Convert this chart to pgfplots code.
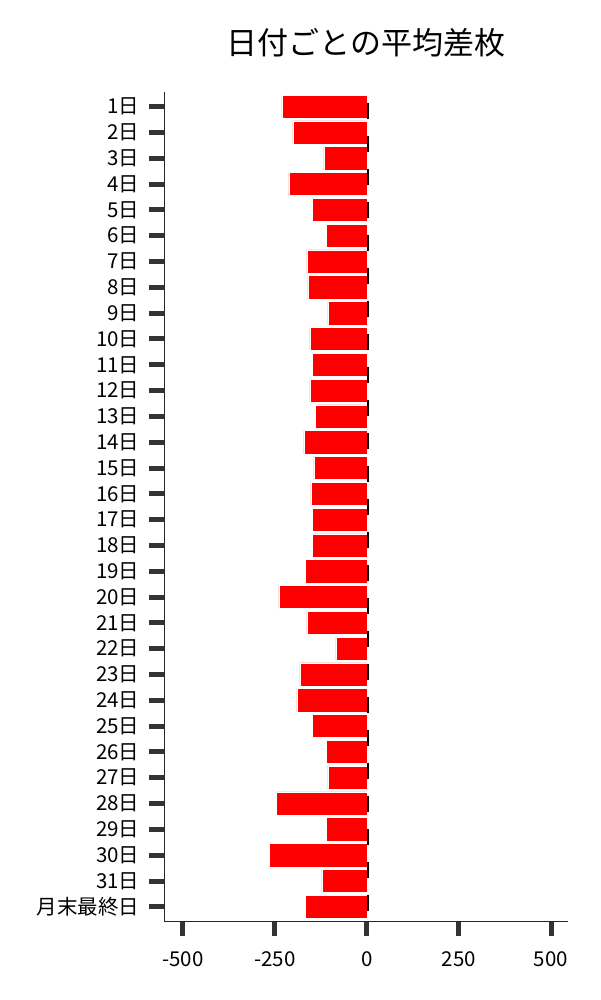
\documentclass[border=0pt]{standalone}
\usepackage{pgfplots}
\pgfplotsset{compat=1.18}
\usepackage{fontspec}
\setmainfont{Noto Sans CJK JP}
\definecolor{tickgray}{HTML}{333333}
\definecolor{spine}{HTML}{262626}

\begin{document}
\begin{tikzpicture}
\useasboundingbox (0,0) rectangle (600pt,1000pt);
\begin{axis}[
  at={(164pt,79pt)}, anchor=south west,
  scale only axis,
  width=404pt, height=829pt,
  xmin=-551, xmax=546,
  ymin=-0.57, ymax=31.55,
  y dir=reverse,
  clip=false,
  axis x line*=bottom, axis y line*=left,
  axis line style={spine, line width=1pt},
  xtick={-500,-250,0,250,500},
  ytick={0,...,31},
  yticklabels={1日,2日,3日,4日,5日,6日,7日,8日,9日,10日,11日,12日,13日,14日,15日,16日,
    17日,18日,19日,20日,21日,22日,23日,24日,25日,26日,27日,28日,29日,30日,31日,月末最終日},
  tick align=outside,
  major tick length=15pt,
  tick style={tickgray, line width=5pt},
  ticklabel style={font=\fontsize{20.5}{24}\selectfont},
  yticklabel style={xshift=-6pt},
  xticklabel style={yshift=-12pt},
  /pgf/number format/assume math mode=true,
  xbar, bar width=0.9,
]
\addplot[fill=red, draw=white, line width=0.6pt] coordinates {
  (-231,0) (-201,1) (-117,2) (-212,3) (-149,4) (-111,5) (-163,6) (-160,7)
  (-106,8) (-155,9) (-147,10) (-155,11) (-139,12) (-171,13) (-144,14) (-152,15)
  (-147,16) (-149,17) (-166,18) (-239,19) (-163,20) (-84,21) (-182,22) (-190,23)
  (-149,24) (-109,25) (-106,26) (-245,27) (-109,28) (-264,29) (-122,30) (-168,31)
};
\draw[black, line width=2pt, dash pattern=on 16pt off 17pt, dash phase=22pt, xshift=1pt]
  (axis cs:0,-0.57) -- (axis cs:0,31.55);
\node[anchor=base, font=\fontsize{31}{37}\selectfont, yshift=37pt]
  at (rel axis cs:0.5,1) {日付ごとの平均差枚};
\end{axis}
\end{tikzpicture}
\end{document}
